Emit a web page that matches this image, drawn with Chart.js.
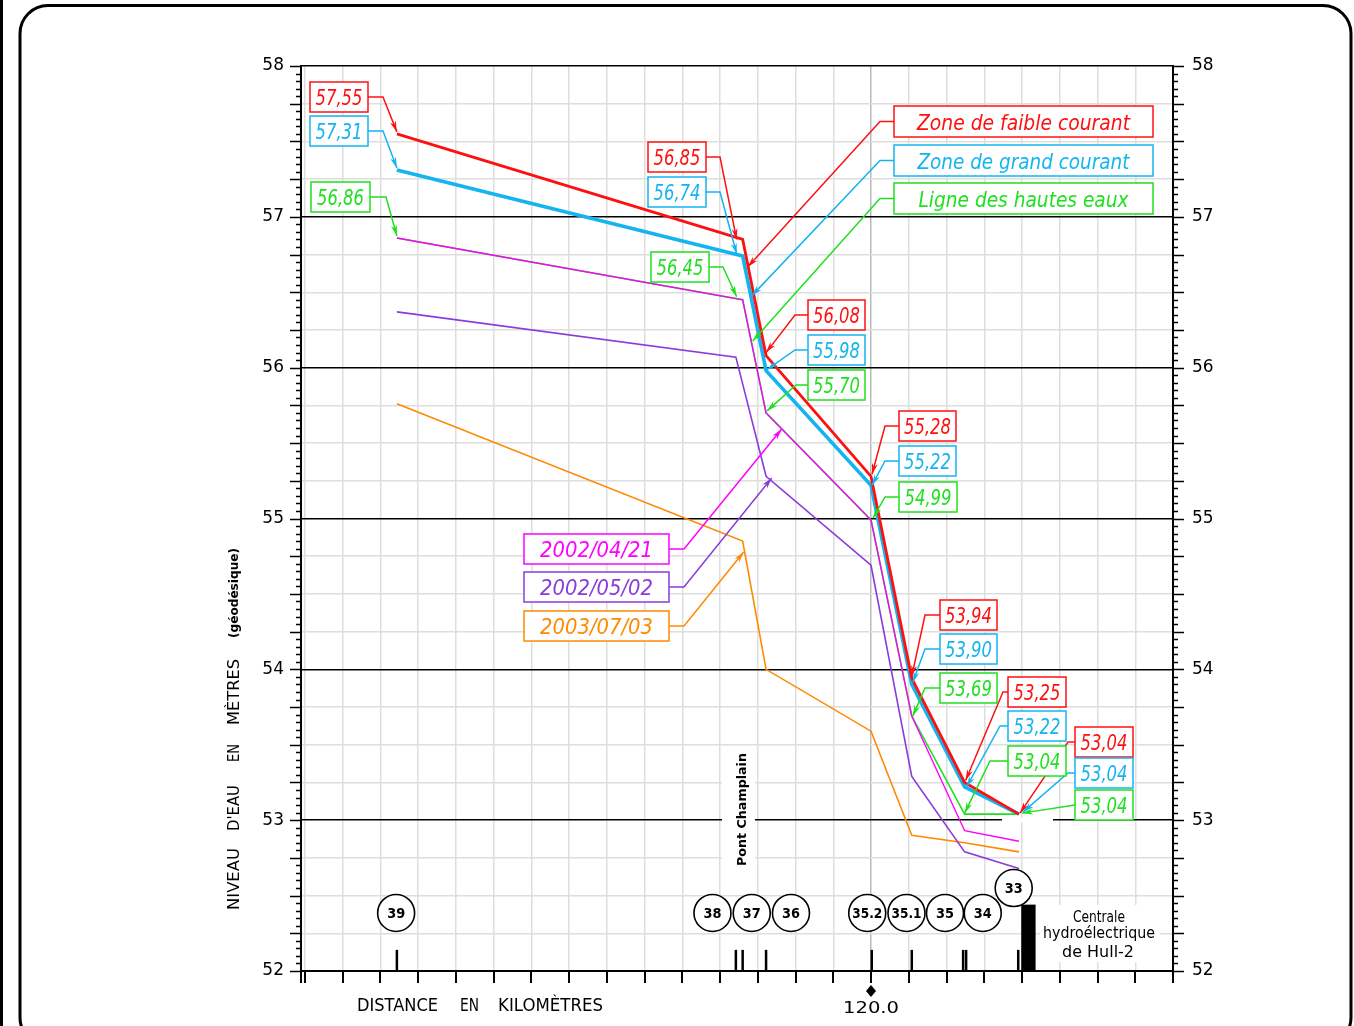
<!DOCTYPE html>
<html>
<head>
<meta charset="utf-8">
<script src="https://cdn.jsdelivr.net/npm/chart.js@4.4.1/dist/chart.umd.min.js"></script>
<style>
  html, body { margin: 0; padding: 0; background: #fff; }
  canvas { display: block; }
</style>
</head>
<body>
<canvas id="c" width="1354" height="1026"></canvas>
<script>
// ---- Cross-section positions (km along the river) ----
const stationKm = [113.72, 118.30, 118.61, 120.0, 120.54, 121.24, 121.96];
const stationKmMai = [113.72, 118.21, 118.61, 120.0, 120.54, 121.24, 121.96];

// ---- Water levels (m, geodetic) ----
const faibleCourant = [57.55, 56.85, 56.08, 55.28, 53.94, 53.25, 53.04];
const grandCourant = [57.31, 56.74, 55.98, 55.22, 53.90, 53.22, 53.04];
const hautesEaux = [56.86, 56.45, 55.70, 54.99, 53.69, 53.04, 53.04];
const releve20020421 = [56.86, 56.45, 55.70, 54.99, 53.69, 52.93, 52.86];
const releve20020502 = [56.37, 56.07, 55.28, 54.69, 53.29, 52.79, 52.68];
const releve20030703 = [55.76, 54.85, 54.00, 53.59, 52.90, 52.85, 52.79];

// ---- Section markers along the bottom ----
const markerKm = [113.72, 118.21, 118.30, 118.61, 120.01, 120.54, 121.22, 121.26, 121.95];
const circleLabels = ['39', '38', '37', '36', '35.2', '35.1', '35', '34', '33'];
const circleKm = [113.71, 117.90, 118.42, 118.94, 119.95, 120.47, 120.98, 121.48, 121.89];
const circleLevel = [52.385, 52.385, 52.385, 52.385, 52.385, 52.385, 52.385, 52.385, 52.55];
const centraleKm = [121.99, 122.18];
const centraleTop = 52.44;

// ---- Axis ticks ----
const X_MIN = 112.45, X_MAX = 124.0;
const xTickValues = [];
for (let i = 225; i <= 248; i++) xTickValues.push(i / 2);
const yTickValues = [];
for (let i = 5200; i <= 5800; i += 5) yTickValues.push(i / 100);
const yLabelValues = [52, 53, 54, 55, 56, 57, 58];

const RED = '#ff1010', BLUE = '#14b4f0', GREEN = '#1fe01f';
const MAGENTA = '#ff00ff', PURPLE = '#8a3bdc', ORANGE = '#ff8a00';

const seriesByKey = { faible: faibleCourant, grand: grandCourant, hautes: hautesEaux };
const colorByKey = { faible: RED, grand: BLUE, hautes: GREEN };

// value callouts: series, index, box x, box y, box w, elbow x, tip dx, tip dy
const valueCallouts = [
  ['faible', 0, 310, 82, 58, 383, 0, -2],
  ['grand', 0, 310, 116, 58, 383, 0, -2],
  ['hautes', 0, 311, 182, 59, 386, 0, -2],
  ['faible', 1, 648, 142, 58, 720, -6, 0],
  ['grand', 1, 648, 177, 58, 720, -6, -2],
  ['hautes', 1, 651, 252, 58, 723, -6, -3],
  ['faible', 2, 808, 300, 57, 795, 0, -3],
  ['grand', 2, 808, 335, 57, 795, 1, -1],
  ['hautes', 2, 808, 370, 57, 796, 1, -2],
  ['faible', 3, 899, 411, 57, 885, 1, -2],
  ['grand', 3, 899, 446, 57, 885, 1, 0],
  ['hautes', 3, 899, 482, 58, 885, 2, -2],
  ['faible', 4, 940, 600, 57, 925, 0, -2],
  ['grand', 4, 940, 634, 57, 925, 1, -2],
  ['hautes', 4, 940, 673, 57, 925, 1, 0],
  ['faible', 5, 1008, 677, 58, 1003, 1, -2],
  ['grand', 5, 1008, 711, 58, 1000, 2, 0],
  ['hautes', 5, 1008, 746, 58, 990, 0, -1],
  ['faible', 6, 1075, 727, 58, 1068, 1, -1],
  ['grand', 6, 1075, 758, 58, 1068, 4, -2],
  ['hautes', 6, 1075, 790, 58, null, 3, -1]
];

// legend callouts: text, colour, box x, box y, box w, elbow x, tip km, tip level, text width
const zoneCallouts = [
  ['Zone de faible courant', RED, 894, 106, 259, 880, 118.367, 56.668, 213],
  ['Zone de grand courant', BLUE, 894, 145, 259, 880, 118.420, 56.476, 212],
  ['Ligne des hautes eaux', GREEN, 894, 183, 259, 880, 118.433, 56.177, 210]
];
const dateCallouts = [
  [0, 524, 534, 145, 684, 118.817, 55.593],
  [1, 524, 572, 145, 684, 118.685, 55.269],
  [2, 524, 611, 145, 684, 118.314, 54.778]
];

function pts(km, vals) { return vals.map((v, i) => ({ x: km[i], y: v })); }
function isInt(v) { return Math.abs(v - Math.round(v)) < 1e-6; }
function isQuarter(v) { return Math.round(v * 100) % 25 === 0; }
function fmt(v) { return v.toFixed(2).replace('.', ','); }

function drawText(ctx, str, x, y, font, color, targetW, align, rot) {
  ctx.save();
  ctx.font = font;
  ctx.fillStyle = color;
  ctx.textAlign = 'left';
  ctx.textBaseline = 'alphabetic';
  const w = ctx.measureText(str).width;
  const s = targetW ? targetW / w : 1;
  ctx.translate(x, y);
  if (rot) ctx.rotate(rot);
  const left = align === 'center' ? -w * s / 2 : align === 'right' ? -w * s : 0;
  ctx.translate(left, 0);
  ctx.scale(s, 1);
  ctx.fillText(str, 0, 0);
  ctx.restore();
}

function arrowHead(ctx, fx, fy, tx, ty, color) {
  const a = Math.atan2(ty - fy, tx - fx);
  const L = 11, W = 3;
  const c = Math.cos(a), s = Math.sin(a);
  ctx.fillStyle = color;
  ctx.beginPath();
  ctx.moveTo(tx, ty);
  ctx.lineTo(tx - L * c + W * s, ty - L * s - W * c);
  ctx.lineTo(tx - L * 0.7 * c, ty - L * 0.7 * s);
  ctx.lineTo(tx - L * c - W * s, ty - L * s + W * c);
  ctx.closePath();
  ctx.fill();
}

function callout(ctx, text, color, bx, by, bw, bh, elbowX, tx, ty, textW, font) {
  const cy = by + bh / 2;
  const rightSide = elbowX !== null ? elbowX > bx + bw : false;
  const sx = rightSide ? bx + bw : bx;
  ctx.save();
  ctx.strokeStyle = color;
  ctx.lineWidth = 1.5;
  ctx.beginPath();
  ctx.moveTo(sx, cy);
  let fx = sx, fy = cy;
  if (elbowX !== null) { ctx.lineTo(elbowX, cy); fx = elbowX; }
  ctx.lineTo(tx, ty);
  ctx.stroke();
  arrowHead(ctx, fx, fy, tx, ty, color);
  ctx.restore();
  return () => {
    ctx.save();
    ctx.fillStyle = '#fff';
    ctx.fillRect(bx, by, bw, bh);
    ctx.strokeStyle = color;
    ctx.lineWidth = 1.5;
    ctx.strokeRect(bx, by, bw, bh);
    ctx.restore();
    drawText(ctx, text, bx + bw / 2, cy + 8, font, color, textW, 'center');
  };
}

const decor = {
  id: 'decor',
  beforeDatasetsDraw(chart) {
    const ctx = chart.ctx, x = chart.scales.x, y = chart.scales.y;
    ctx.save();
    // clearing behind "Pont Champlain", the plant caption and on the 53 m line near the plant
    ctx.fillStyle = '#fff';
    ctx.fillRect(722, 748, 33, 124);
    ctx.fillRect(1002, y.getPixelForValue(53) - 2, 51, 4);
    ctx.fillRect(1040, 905, 120, 57);
    // section markers
    ctx.fillStyle = '#000';
    const y0 = y.getPixelForValue(52), yb = y.getPixelForValue(52.14);
    markerKm.forEach(k => {
      const px = x.getPixelForValue(k);
      ctx.fillRect(px - 1.25, yb, 2.5, y0 - yb);
    });
    // Hull-2 power plant
    const hx0 = x.getPixelForValue(centraleKm[0]), hx1 = x.getPixelForValue(centraleKm[1]);
    const hy = y.getPixelForValue(centraleTop);
    ctx.fillRect(hx0, hy, hx1 - hx0, y0 - hy);
    // section circles
    circleLabels.forEach((lab, i) => {
      const cx = x.getPixelForValue(circleKm[i]), cyy = y.getPixelForValue(circleLevel[i]);
      ctx.beginPath();
      ctx.arc(cx, cyy, 18.5, 0, Math.PI * 2);
      ctx.fillStyle = '#fff';
      ctx.fill();
      ctx.lineWidth = 1.6;
      ctx.strokeStyle = '#000';
      ctx.stroke();
      drawText(ctx, lab, cx, cyy + 5, 'bold 14px "DejaVu Sans"', '#000', lab.length > 2 ? 30 : 18, 'center');
    });
    ctx.restore();
    drawText(ctx, 'Pont Champlain', 746, 866, 'bold 13px "DejaVu Sans"', '#000', 113, 'left', -Math.PI / 2);
    drawText(ctx, 'Centrale', 1099, 922, '15px "DejaVu Sans"', '#000', 52, 'center');
    drawText(ctx, 'hydroélectrique', 1099, 938, '15px "DejaVu Sans"', '#000', 112, 'center');
    drawText(ctx, 'de Hull-2', 1098, 957, '15px "DejaVu Sans"', '#000', 72, 'center');
  },
  afterDatasetsDraw(chart) {
    const ctx = chart.ctx, x = chart.scales.x, y = chart.scales.y;
    const boxes = [];
    const vfont = 'italic 21px "DejaVu Sans"';
    valueCallouts.forEach(([key, idx, bx, by, bw, ex, dx, dy]) => {
      const v = seriesByKey[key][idx];
      const tx = x.getPixelForValue(stationKm[idx]) + dx;
      const ty = y.getPixelForValue(v) + dy;
      boxes.push(callout(ctx, fmt(v), colorByKey[key], bx, by, bw, 30, ex, tx, ty, 47, vfont));
    });
    zoneCallouts.forEach(([t, col, bx, by, bw, ex, tk, tv, tw]) => {
      boxes.push(callout(ctx, t, col, bx, by, bw, 31, ex, x.getPixelForValue(tk), y.getPixelForValue(tv), tw, vfont));
    });
    const ds = chart.data.datasets;
    dateCallouts.forEach(([di, bx, by, bw, ex, tk, tv]) => {
      const d = ds.find(s => s.dateIndex === di);
      boxes.push(callout(ctx, d.label, d.borderColor, bx, by, bw, 30, ex, x.getPixelForValue(tk), y.getPixelForValue(tv), 113, vfont));
    });
    boxes.forEach(f => f());
  },
  afterDraw(chart) {
    const ctx = chart.ctx, x = chart.scales.x, y = chart.scales.y;
    const L = chart.chartArea.left, R = chart.chartArea.right, B = chart.chartArea.bottom;
    ctx.save();
    ctx.strokeStyle = '#000';
    ctx.lineWidth = 1.5;
    ctx.beginPath();
    yTickValues.forEach(v => {
      const py = Math.round(y.getPixelForValue(v)) + 0.5;
      const len = isQuarter(v) ? 11 : 5;
      ctx.moveTo(L - len, py); ctx.lineTo(L, py);
      ctx.moveTo(R, py); ctx.lineTo(R + len, py);
    });
    ctx.stroke();
    ctx.lineWidth = 2;
    ctx.beginPath();
    [X_MIN].concat(xTickValues).forEach(v => {
      const px = Math.round(x.getPixelForValue(v));
      ctx.moveTo(px, B); ctx.lineTo(px, B + 12);
    });
    ctx.stroke();
    // 120.0 reference mark
    const p120 = x.getPixelForValue(120);
    ctx.fillStyle = '#000';
    ctx.beginPath();
    ctx.moveTo(p120, 985); ctx.lineTo(p120 + 5, 991); ctx.lineTo(p120, 997); ctx.lineTo(p120 - 5, 991);
    ctx.closePath();
    ctx.fill();
    ctx.restore();
    drawText(ctx, '120.0', p120, 1013, '16px "DejaVu Sans"', '#000', 56, 'center');
    // axis titles
    drawText(ctx, 'DISTANCE', 357, 1011, '17px "DejaVu Sans"', '#000', 81, 'left');
    drawText(ctx, 'EN', 460, 1011, '17px "DejaVu Sans"', '#000', 19, 'left');
    drawText(ctx, 'KILOMÈTRES', 498, 1011, '17px "DejaVu Sans"', '#000', 105, 'left');
    const rot = -Math.PI / 2;
    drawText(ctx, 'NIVEAU', 239, 910, '15px "DejaVu Sans"', '#000', 62, 'left', rot);
    drawText(ctx, "D'EAU", 239, 831, '15px "DejaVu Sans"', '#000', 46, 'left', rot);
    drawText(ctx, 'EN', 239, 762, '15px "DejaVu Sans"', '#000', 18, 'left', rot);
    drawText(ctx, 'MÈTRES', 239, 725, '15px "DejaVu Sans"', '#000', 66, 'left', rot);
    drawText(ctx, '(géodésique)', 238, 638, 'bold 13px "DejaVu Sans"', '#000', 90, 'left', rot);
    // page frame
    ctx.save();
    ctx.fillStyle = '#000';
    ctx.fillRect(0, 0, 3, 1026);
    ctx.strokeStyle = '#000';
    ctx.lineWidth = 3;
    ctx.beginPath();
    ctx.roundRect(20, 5.5, 1331, 1040, 28);
    ctx.stroke();
    ctx.restore();
  }
};

const datasets = [
  { label: '2003/07/03', dateIndex: 2, data: pts(stationKm, releve20030703), borderColor: ORANGE, borderWidth: 1.6, order: 6 },
  { label: '2002/05/02', dateIndex: 1, data: pts(stationKmMai, releve20020502), borderColor: PURPLE, borderWidth: 1.6, order: 5 },
  { label: 'Ligne des hautes eaux', data: pts(stationKm, hautesEaux), borderColor: GREEN, borderWidth: 1.6, order: 4 },
  { label: '2002/04/21', dateIndex: 0, data: pts(stationKm, releve20020421), borderColor: MAGENTA, borderWidth: 1.4, order: 3 },
  { label: 'Zone de grand courant', data: pts(stationKm, grandCourant), borderColor: BLUE, borderWidth: 3.6, order: 2 },
  { label: 'Zone de faible courant', data: pts(stationKm, faibleCourant), borderColor: RED, borderWidth: 2.8, order: 1 }
].map(d => Object.assign({ showLine: true, pointRadius: 0, fill: false, tension: 0, borderJoinStyle: 'miter' }, d));

new Chart(document.getElementById('c'), {
  type: 'scatter',
  data: { datasets },
  options: {
    responsive: false,
    animation: false,
    layout: { padding: { top: 66, left: 0, right: 0, bottom: 0 } },
    plugins: { legend: { display: false }, tooltip: { enabled: false } },
    scales: {
      x: {
        type: 'linear', min: X_MIN, max: X_MAX,
        afterFit(s) { s.height = 55; },
        afterBuildTicks(s) { s.ticks = xTickValues.map(v => ({ value: v })); },
        ticks: { display: false },
        grid: {
          drawTicks: false,
          lineWidth: 1.5,
          color(c) { return c.tick && Math.abs(c.tick.value - 120) < 1e-6 ? '#b9b9b9' : '#dedede'; }
        },
        border: { color: '#000', width: 2 }
      },
      y: {
        position: 'left', min: 52, max: 58,
        afterFit(s) { s.width = 301; },
        afterBuildTicks(s) { s.ticks = yTickValues.map(v => ({ value: v })); },
        ticks: {
          autoSkip: false, padding: 17, color: '#000',
          font: { family: 'DejaVu Sans', size: 17 },
          callback(v) { return yLabelValues.some(l => Math.abs(l - v) < 1e-6) ? String(Math.round(v)) : ''; }
        },
        grid: {
          drawTicks: false,
          color(c) {
            const v = c.tick ? c.tick.value : 0;
            if (isInt(v)) return '#000';
            if (isQuarter(v)) return '#dedede';
            return 'rgba(0,0,0,0)';
          },
          lineWidth(c) {
            const v = c.tick ? c.tick.value : 0;
            if (isInt(v)) return 1.6;
            if (isQuarter(v)) return 1.5;
            return 0;
          }
        },
        border: { color: '#000', width: 2 }
      },
      y2: {
        position: 'right', min: 52, max: 58,
        afterFit(s) { s.width = 181; },
        afterBuildTicks(s) { s.ticks = yTickValues.map(v => ({ value: v })); },
        ticks: {
          autoSkip: false, padding: 19, color: '#000',
          font: { family: 'DejaVu Sans', size: 17 },
          callback(v) { return yLabelValues.some(l => Math.abs(l - v) < 1e-6) ? String(Math.round(v)) : ''; }
        },
        grid: { display: false, drawTicks: false },
        border: { color: '#000', width: 2 }
      }
    }
  },
  plugins: [decor]
});
</script>
</body>
</html>
